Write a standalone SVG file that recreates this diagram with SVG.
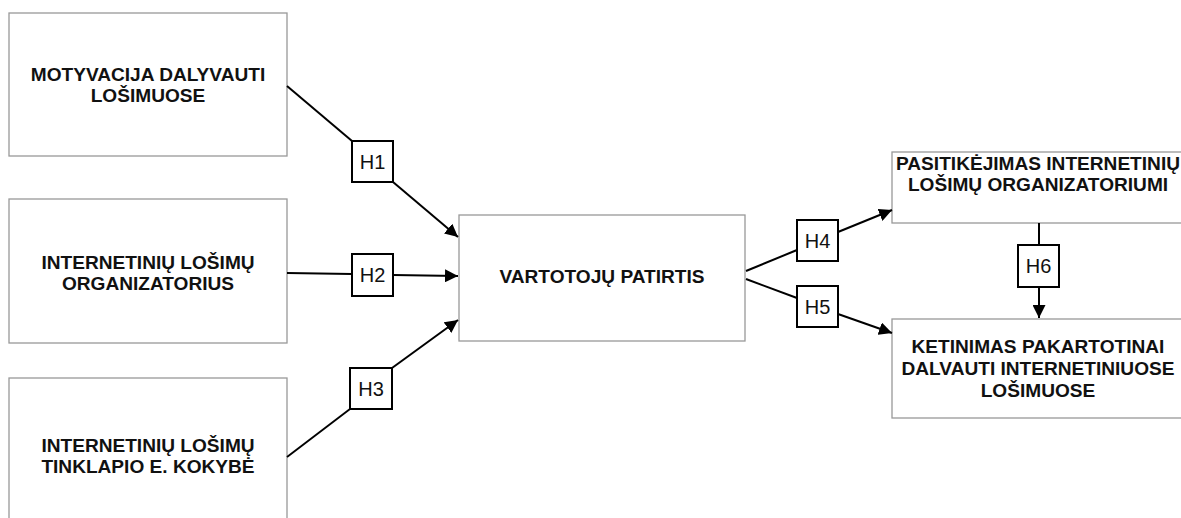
<svg xmlns="http://www.w3.org/2000/svg" width="1181" height="518" viewBox="0 0 1181 518">
<style>
.box{fill:#fff;stroke:#999;stroke-width:1.3}
.t{font-family:"Liberation Sans",Arial,sans-serif;font-weight:bold;font-size:19.1px;fill:#111;text-anchor:middle}
.hb{fill:#fff;stroke:#000;stroke-width:2}
.ht{font-family:"Liberation Sans",Arial,sans-serif;font-size:20px;fill:#111;text-anchor:middle}
.ln{stroke:#000;stroke-width:2;fill:none}
</style>
<defs>
<marker id="ar" viewBox="0 0 10 10" refX="10" refY="5" markerWidth="13" markerHeight="13" markerUnits="userSpaceOnUse" orient="auto">
<path d="M0,0 L10,5 L0,10 z" fill="#000"/>
</marker>
</defs>
<rect width="1181" height="518" fill="#fff"/>
<g id="n1"><rect class="box" x="9" y="13" width="278" height="143"/>
<text class="t" x="148" y="81">MOTYVACIJA DALYVAUTI</text><text class="t" x="148" y="102">LOŠIMUOSE</text></g>
<g id="n2"><rect class="box" x="9" y="199" width="278" height="144"/>
<text class="t" x="148" y="269">INTERNETINIŲ LOŠIMŲ</text><text class="t" x="148" y="290">ORGANIZATORIUS</text></g>
<g id="n3"><rect class="box" x="9" y="378" width="278" height="150"/>
<text class="t" x="148" y="452">INTERNETINIŲ LOŠIMŲ</text><text class="t" x="148" y="473">TINKLAPIO E. KOKYBĖ</text></g>
<g id="n4"><rect class="box" x="459" y="215" width="286" height="126"/>
<text class="t" x="602" y="283">VARTOTOJŲ PATIRTIS</text></g>
<g id="n5"><rect class="box" x="892" y="152" width="300" height="71"/>
<text class="t" x="1038" y="170">PASITIKĖJIMAS INTERNETINIŲ</text><text class="t" x="1038" y="191">LOŠIMŲ ORGANIZATORIUMI</text></g>
<g id="n6"><rect class="box" x="892" y="319" width="300" height="99"/>
<text class="t" x="1038" y="353">KETINIMAS PAKARTOTINAI</text><text class="t" x="1038" y="375">DALVAUTI INTERNETINIUOSE</text><text class="t" x="1038" y="397">LOŠIMUOSE</text></g>
<g id="connectors">
<line class="ln" x1="287" y1="86" x2="352" y2="141"/>
<line class="ln" x1="393" y1="182" x2="458" y2="237" marker-end="url(#ar)"/>
<line class="ln" x1="287" y1="273" x2="352" y2="274"/>
<line class="ln" x1="393" y1="275" x2="458" y2="276" marker-end="url(#ar)"/>
<line class="ln" x1="287" y1="457" x2="350" y2="409"/>
<line class="ln" x1="392" y1="368" x2="458" y2="320" marker-end="url(#ar)"/>
<line class="ln" x1="746" y1="271" x2="797" y2="250"/>
<line class="ln" x1="838" y1="232" x2="892" y2="210" marker-end="url(#ar)"/>
<line class="ln" x1="746" y1="279" x2="797" y2="298"/>
<line class="ln" x1="838" y1="314" x2="892" y2="333" marker-end="url(#ar)"/>
<line class="ln" x1="1039" y1="223" x2="1039" y2="245"/>
<line class="ln" x1="1039" y1="287" x2="1039" y2="318" marker-end="url(#ar)"/>
<g id="h1"><rect class="hb" x="352" y="141" width="41" height="41"/><text class="ht" x="372.5" y="169">H1</text></g>
<g id="h2"><rect class="hb" x="352" y="254" width="41" height="42"/><text class="ht" x="372.5" y="282">H2</text></g>
<g id="h3"><rect class="hb" x="350" y="368" width="42" height="41"/><text class="ht" x="371" y="396">H3</text></g>
<g id="h4"><rect class="hb" x="797" y="220" width="41" height="41"/><text class="ht" x="817.5" y="248">H4</text></g>
<g id="h5"><rect class="hb" x="797" y="286" width="41" height="41"/><text class="ht" x="817.5" y="314">H5</text></g>
<g id="h6"><rect class="hb" x="1018" y="245" width="41" height="42"/><text class="ht" x="1038.5" y="273">H6</text></g>
</g>
</svg>
